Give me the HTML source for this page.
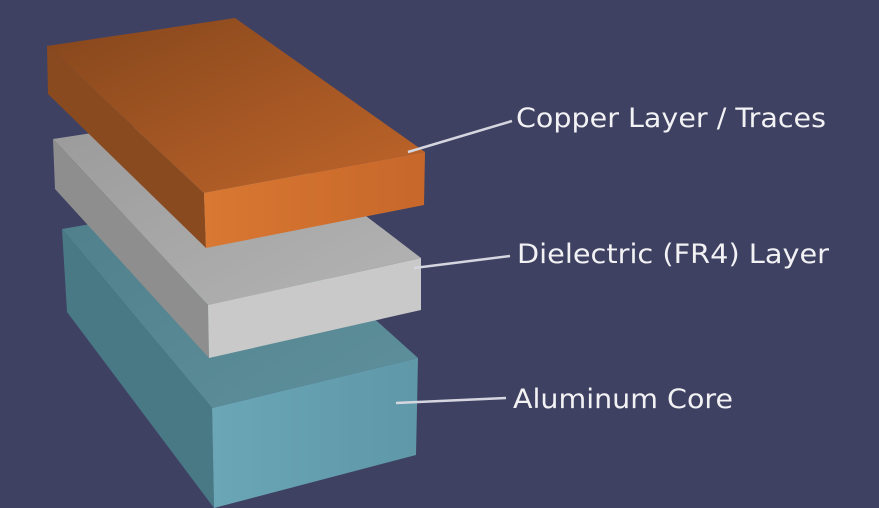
<!DOCTYPE html>
<html><head><meta charset="utf-8"><style>
html,body{margin:0;padding:0;background:#3f4163;}
svg{display:block}
</style></head><body>
<svg width="879" height="508" viewBox="0 0 879 508" xmlns="http://www.w3.org/2000/svg">
<defs>
<linearGradient id="ct" x1="0" y1="0" x2="1" y2="1"><stop offset="0" stop-color="#84461c"/><stop offset="1" stop-color="#c0652a"/></linearGradient>
<linearGradient id="cf" x1="0" y1="0" x2="1" y2="0"><stop offset="0" stop-color="#d97832"/><stop offset="1" stop-color="#c7672a"/></linearGradient>
<linearGradient id="gt" x1="0" y1="0" x2="1" y2="1"><stop offset="0" stop-color="#9a9a9a"/><stop offset="1" stop-color="#b4b4b4"/></linearGradient>
<linearGradient id="tt" x1="0" y1="0" x2="1" y2="1"><stop offset="0" stop-color="#4f7f8b"/><stop offset="1" stop-color="#5e909c"/></linearGradient>
<linearGradient id="tf" x1="0" y1="0" x2="1" y2="0"><stop offset="0" stop-color="#6aa6b6"/><stop offset="1" stop-color="#5f98a8"/></linearGradient>
</defs>
<rect width="879" height="508" fill="#3f4163"/>
<!-- Aluminum -->
<polygon points="62,229 240,198 418,358 212,408" fill="url(#tt)"/>
<polygon points="62,229 212,408 214,508 67,312" fill="#497985"/>
<polygon points="212,408 418,358 416,455 214,508" fill="url(#tf)"/>
<!-- Dielectric -->
<polygon points="53,139 230,112 421,258 208,305" fill="url(#gt)"/>
<polygon points="53,139 208,305 209,358 55,189" fill="#8e8e8e"/>
<polygon points="208,305 421,258 421,310 209,358" fill="#c9c9c9"/>
<!-- Copper -->
<polygon points="47,46 235,18 425,152 204,193" fill="url(#ct)"/>
<polygon points="47,46 204,193 206,248 48,94" fill="#8a4a20"/>
<polygon points="204,193 425,152 424,205 206,248" fill="url(#cf)"/>
<!-- leaders -->
<g stroke="#d6d6e0" stroke-width="2.5" fill="none">
<line x1="408" y1="152" x2="512" y2="121"/>
<line x1="414" y1="268" x2="510" y2="256"/>
<line x1="396" y1="403" x2="506" y2="398"/>
</g>
<g font-family="DejaVu Sans, Liberation Sans, sans-serif" font-size="27" fill="#f2f2f4">
<text x="516" y="127" textLength="310" lengthAdjust="spacingAndGlyphs">Copper Layer / Traces</text>
<text x="517" y="263" textLength="312" lengthAdjust="spacingAndGlyphs">Dielectric (FR4) Layer</text>
<text x="513" y="408" textLength="220" lengthAdjust="spacingAndGlyphs">Aluminum Core</text>
</g>
</svg>
</body></html>
